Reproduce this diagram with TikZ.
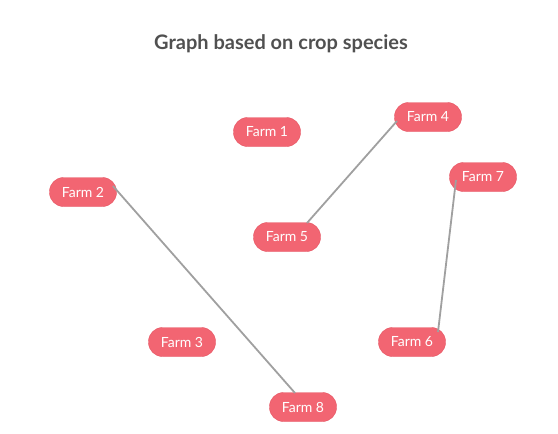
\documentclass[tikz,border=0pt]{standalone}
\usepackage{fontspec}
\setmainfont{Lato}
\definecolor{farmred}{RGB}{242,101,114}
\definecolor{farmedge}{RGB}{230,85,99}
\definecolor{linkgray}{RGB}{160,160,160}
\definecolor{titlegray}{RGB}{80,80,80}
\begin{document}
\begin{tikzpicture}[x=1pt, y=-1pt]
	\tikzset{ferme/.style={draw=farmedge, fill=farmred, rounded corners=14pt, minimum width=67pt, minimum height=29pt, inner sep=0pt, text=white, font=\fontsize{14}{16}\selectfont}, lien/.style={draw=linkgray, line width=1.8pt}};

	\useasboundingbox (0,0) rectangle (558,434);

	\node[font=\bfseries\fontsize{20}{24}\selectfont, text=titlegray] (titre) at (281,44) {Graph based on crop species};

	\node[ferme] (f1) at (267,132) {Farm 1};
	\node[ferme] (f2) at ( 83,192) {Farm 2};
	\node[ferme] (f3) at (182,342) {Farm 3};
	\node[ferme] (f4) at (428,117) {Farm 4};
	\node[ferme] (f5) at (287,237) {Farm 5};
	\node[ferme] (f6) at (412,342) {Farm 6};
	\node[ferme] (f7) at (483,177) {Farm 7};
	\node[ferme] (f8) at (303,407) {Farm 8};

	\coordinate (p2) at ([shift={( 30, -6)}]f2.center);
	\coordinate (p8) at ([shift={( -8,-14)}]f8.center);
	\coordinate (p4) at ([shift={(-31,  4)}]f4.center);
	\coordinate (p5) at ([shift={( 20,-14)}]f5.center);
	\coordinate (p7) at ([shift={(-27,  3)}]f7.center);
	\coordinate (p6) at ([shift={( 26,-10)}]f6.center);

	\draw[lien] (p2) -- (p8);
	\draw[lien] (p4) -- (p5);
	\draw[lien] (p7) -- (p6);
\end{tikzpicture}
\end{document}
